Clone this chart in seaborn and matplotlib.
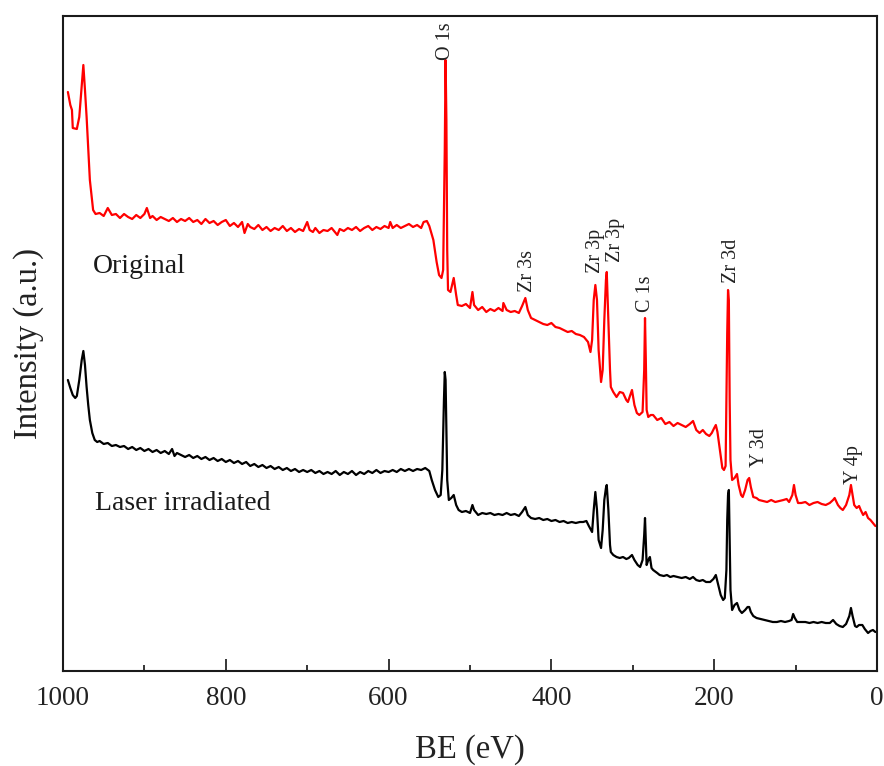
import numpy as np
import pandas as pd
import matplotlib
matplotlib.use("Agg")
import matplotlib.pyplot as plt
from matplotlib.ticker import MultipleLocator
import seaborn as sns

# ---------------- data ----------------
be_original = [994, 991, 989, 988, 983, 980, 977, 975, 973, 971, 967, 963, 960, 955, 950, 945, 940, 935, 930, 925,
               920, 915, 910, 905, 900, 897, 893, 890, 885, 880, 875, 870, 865, 860, 855, 850, 845, 840, 835, 830,
               825, 820, 815, 810, 805, 800, 795, 790, 785, 780, 777, 773, 770, 765, 760, 755, 750, 745, 740, 735,
               730, 725, 720, 715, 710, 705, 700, 697, 693, 690, 685, 680, 675, 670, 665, 663, 660, 655, 650, 645,
               640, 635, 630, 625, 620, 615, 610, 605, 600, 598, 595, 590, 585, 580, 575, 570, 565, 560, 557, 553,
               550, 545, 541, 538, 535, 533, 531, 530, 529, 528, 527, 524, 520, 517, 515, 510, 505, 500, 497, 495,
               490, 485, 480, 475, 470, 465, 460, 459, 455, 450, 445, 440, 436, 432, 429, 425, 420, 415, 410, 405,
               400, 395, 390, 385, 380, 375, 370, 365, 360, 355, 352, 350, 348, 346, 344, 342, 339, 337, 335, 333,
               332, 330, 328, 327, 324, 320, 316, 312, 308, 306, 303, 301, 298, 295, 292, 288, 286, 285, 284, 283,
               281, 278, 275, 270, 265, 260, 255, 250, 245, 240, 235, 230, 226, 222, 218, 214, 210, 206, 203, 200,
               198, 196, 193, 190, 188, 186, 185, 184, 183, 182, 181, 180, 178, 175, 172, 170, 167, 165, 162, 159,
               157, 155, 152, 148, 145, 140, 135, 130, 125, 120, 115, 111, 108, 104, 102, 100, 97, 93, 88, 83,
               78, 73, 68, 63, 58, 54, 52, 48, 45, 42, 38, 34, 32, 30, 28, 25, 22, 20, 17, 14,
               11, 8, 5, 2]
int_original = [579, 566, 561, 543, 542, 554, 586, 606, 581, 554, 491, 461, 457, 458, 455, 463, 456, 457, 453, 457,
                454, 452, 456, 453, 457, 463, 453, 455, 451, 454, 452, 450, 453, 449, 452, 450, 453, 449, 451, 447,
                452, 448, 450, 446, 449, 451, 445, 448, 444, 449, 438, 447, 444, 442, 446, 441, 444, 440, 443, 441,
                445, 440, 443, 439, 442, 440, 449, 441, 439, 443, 438, 441, 440, 443, 438, 436, 442, 440, 443, 441,
                444, 440, 443, 445, 441, 444, 442, 445, 443, 449, 443, 446, 443, 445, 447, 444, 446, 443, 449, 450,
                445, 431, 409, 396, 393, 401, 521, 611, 551, 421, 381, 379, 393, 376, 366, 365, 367, 363, 379, 366,
                361, 364, 359, 362, 360, 363, 360, 368, 361, 359, 360, 358, 365, 373, 361, 353, 351, 349, 347, 346,
                348, 344, 343, 341, 339, 340, 337, 336, 334, 329, 319, 331, 371, 386, 371, 321, 289, 301, 351, 391,
                399, 351, 301, 284, 279, 274, 279, 278, 271, 269, 276, 281, 266, 258, 256, 259, 301, 353, 311, 261,
                254, 256, 256, 251, 253, 247, 249, 245, 248, 246, 244, 247, 250, 241, 238, 241, 237, 235, 238, 243,
                246, 239, 221, 203, 201, 205, 271, 338, 381, 371, 271, 211, 191, 193, 197, 186, 176, 174, 181, 191,
                193, 184, 174, 173, 171, 170, 169, 171, 169, 170, 171, 172, 169, 176, 186, 176, 168, 168, 169, 166,
                168, 169, 167, 166, 168, 171, 173, 166, 163, 161, 166, 176, 186, 176, 166, 163, 165, 161, 156, 159,
                153, 151, 148, 145]

be_laser = [994, 991, 988, 985, 983, 980, 977, 975, 973, 971, 969, 967, 964, 961, 958, 955, 950, 945, 940, 935,
            930, 925, 920, 915, 910, 905, 900, 895, 890, 885, 880, 875, 870, 866, 863, 860, 855, 850, 845, 840,
            835, 830, 825, 820, 815, 810, 805, 800, 795, 790, 785, 780, 775, 770, 765, 760, 755, 750, 745, 740,
            735, 730, 725, 720, 715, 710, 705, 700, 695, 690, 685, 680, 675, 670, 665, 660, 655, 650, 645, 640,
            635, 630, 625, 620, 615, 610, 605, 600, 595, 590, 585, 580, 575, 570, 565, 560, 555, 550, 547, 543,
            539, 536, 534, 532, 531, 530, 529, 528, 526, 523, 520, 517, 514, 510, 505, 500, 497, 495, 490, 485,
            480, 475, 470, 465, 460, 455, 450, 445, 440, 436, 432, 429, 425, 420, 415, 410, 405, 400, 395, 390,
            385, 380, 375, 370, 365, 361, 357, 354, 350, 348, 346, 344, 342, 339, 337, 335, 333, 332, 330, 328,
            327, 324, 320, 316, 312, 308, 305, 301, 298, 294, 291, 288, 286, 285, 284, 283, 281, 279, 277, 275,
            270, 267, 262, 258, 254, 250, 245, 240, 235, 230, 226, 222, 218, 214, 210, 205, 201, 198, 195, 192,
            189, 187, 185, 184, 183, 182, 181, 180, 178, 175, 172, 169, 166, 162, 159, 157, 155, 152, 148, 143,
            138, 133, 128, 123, 118, 113, 108, 105, 103, 101, 98, 93, 88, 83, 78, 73, 68, 63, 58, 54,
            50, 46, 42, 38, 34, 32, 30, 27, 25, 22, 18, 15, 11, 8, 5, 2]
int_laser = [291, 283, 276, 273, 275, 291, 311, 320, 306, 284, 266, 251, 238, 231, 229, 230, 227, 228, 225, 226,
             224, 225, 222, 224, 221, 223, 220, 222, 219, 221, 218, 220, 217, 222, 215, 218, 216, 214, 216, 213,
             215, 212, 214, 211, 213, 210, 212, 209, 211, 208, 210, 207, 209, 205, 207, 204, 206, 203, 205, 202,
             204, 201, 203, 200, 202, 199, 201, 199, 201, 198, 200, 197, 199, 197, 200, 196, 199, 197, 200, 196,
             199, 197, 200, 198, 201, 198, 200, 199, 201, 199, 202, 200, 202, 200, 202, 201, 203, 200, 191, 181,
             174, 176, 201, 271, 299, 291, 241, 191, 171, 173, 176, 166, 161, 159, 160, 158, 166, 161, 156, 158,
             157, 158, 156, 157, 156, 158, 156, 157, 155, 159, 164, 156, 153, 152, 153, 151, 152, 150, 151, 149,
             150, 148, 149, 148, 149, 149, 150, 145, 139, 161, 179, 161, 131, 123, 141, 171, 183, 186, 161, 126,
             119, 116, 114, 113, 114, 112, 113, 116, 111, 106, 104, 111, 136, 153, 131, 106, 111, 114, 103, 101,
             98, 96, 95, 96, 94, 95, 94, 93, 94, 92, 94, 91, 90, 91, 89, 89, 92, 96, 86, 76,
             71, 73, 101, 151, 176, 181, 131, 81, 61, 66, 68, 61, 58, 61, 64, 64, 59, 55, 53, 52,
             51, 50, 49, 49, 50, 49, 50, 51, 57, 53, 49, 49, 49, 48, 49, 48, 49, 48, 48, 51,
             47, 45, 44, 47, 55, 63, 55, 45, 44, 46, 46, 42, 38, 40, 41, 39]

series_names = ["Original", "Laser irradiated"]
series_colors = ["#ff0000", "#000000"]

peak_labels = ["O 1s", "Zr 3s", "Zr 3p", "Zr 3p", "C 1s", "Zr 3d", "Y 3d", "Y 4p"]
peak_be = [530, 432, 346, 332, 285, 183, 157, 32]

x_ticks = [1000, 800, 600, 400, 200, 0]

# ---------------- figure ----------------
sns.set_style("ticks")
plt.rcParams["font.family"] = ["Liberation Serif", "DejaVu Serif"]

df = pd.concat([
    pd.DataFrame({"BE": be_original, "Intensity": int_original, "Sample": series_names[0]}),
    pd.DataFrame({"BE": be_laser, "Intensity": int_laser, "Sample": series_names[1]}),
])

fig = plt.figure(figsize=(8.84, 7.66), dpi=100)
ax = fig.add_axes([63 / 884, 95 / 766, 814 / 884, 655 / 766])

sns.lineplot(data=df, x="BE", y="Intensity", hue="Sample", palette=dict(zip(series_names, series_colors)),
             estimator=None, sort=False, linewidth=1.6, legend=False, ax=ax)

ax.set_xlim(1000, 0)
ax.set_ylim(0, 655)
ax.set_xticks(x_ticks)
ax.xaxis.set_minor_locator(MultipleLocator(100))
ax.set_yticks([])
ax.tick_params(axis="x", which="major", direction="in", length=8.5, width=1.3,
               labelsize=19.5, pad=10.5, top=False, labelcolor="#222222")
ax.tick_params(axis="x", which="minor", direction="in", length=4.3, width=1.3, top=False)
for s in ax.spines.values():
    s.set_linewidth(1.5)
    s.set_color("#1a1a1a")

ax.set_xlabel("BE (eV)", fontsize=23.5, labelpad=17, color="#222222")
ax.set_ylabel("Intensity (a.u.)", fontsize=23.5, labelpad=14, color="#222222")

# sample labels
ax.text(963, 398, series_names[0], fontsize=20, ha="left", va="baseline", color="#1a1a1a")
ax.text(961, 161, series_names[1], fontsize=20, ha="left", va="baseline", color="#1a1a1a")

# peak labels above the red spectrum
x_sorted = np.array(be_original)[::-1]
y_sorted = np.array(int_original)[::-1]
offsets = {"O 1s": (0, 0), "Zr 3s": (2, 6), "Zr 3p#0": (0, 12), "Zr 3p#1": (9, 10),
           "C 1s": (0, 6), "Zr 3d": (3, 7), "Y 3d": (10, 11), "Y 4p": (3, 1)}
zr3p_count = 0
for lab, be in zip(peak_labels, peak_be):
    key = lab
    if lab == "Zr 3p":
        key = f"Zr 3p#{zr3p_count}"
        zr3p_count += 1
    dx, dy = offsets[key]
    yv = float(np.interp(be, x_sorted, y_sorted))
    ax.annotate(lab, xy=(be, yv), xytext=(dx, dy), textcoords="offset pixels",
                rotation=90, ha="center", va="bottom", fontsize=14.5, color="#222222")

fig.savefig("out.png", dpi=100)
